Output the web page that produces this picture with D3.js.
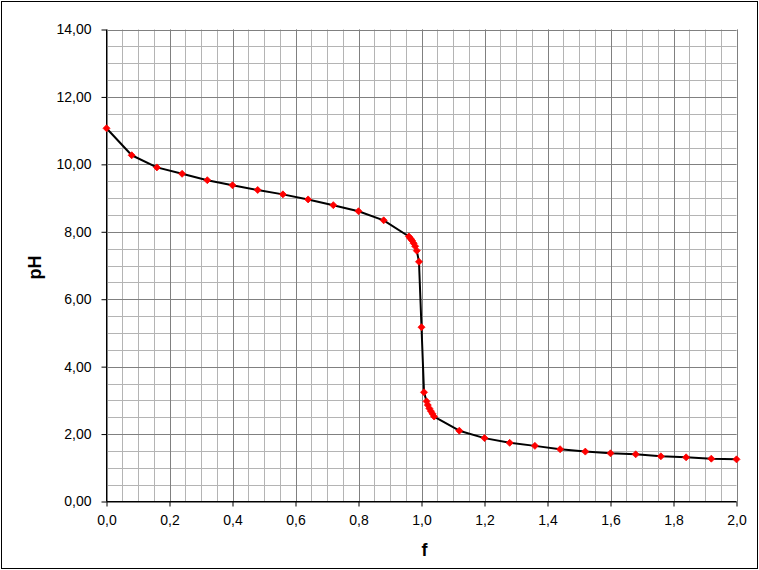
<!DOCTYPE html>
<html>
<head>
<meta charset="utf-8">
<script src="https://cdn.jsdelivr.net/npm/d3@7"></script>
<style>
  html, body { margin: 0; padding: 0; background: #fff; }
  svg { display: block; }
</style>
</head>
<body>
<svg id="chart" width="759" height="570"></svg>
<script>
// Data
const fValues = [0, 0.08, 0.16, 0.24, 0.32, 0.40, 0.48, 0.56, 0.64, 0.72, 0.80, 0.88,
  0.96, 0.965, 0.97, 0.975, 0.98, 0.985, 0.992, 1.0,
  1.008, 1.016, 1.02, 1.025, 1.03, 1.035, 1.04,
  1.12, 1.20, 1.28, 1.36, 1.44, 1.52, 1.60, 1.68, 1.76, 1.84, 1.92, 2.00];
const pHValues = [11.07, 10.27, 9.91, 9.72, 9.53, 9.38, 9.24, 9.11, 8.96, 8.79, 8.61, 8.34,
  7.86, 7.80, 7.74, 7.66, 7.57, 7.44, 7.11, 5.17,
  3.24, 2.97, 2.86, 2.76, 2.68, 2.60, 2.52,
  2.10, 1.88, 1.74, 1.65, 1.55, 1.48, 1.43, 1.40, 1.34, 1.31, 1.27, 1.25];
const xTicks = [0, 0.2, 0.4, 0.6, 0.8, 1.0, 1.2, 1.4, 1.6, 1.8, 2.0];
const yTicks = [0, 2, 4, 6, 8, 10, 12, 14];
const xTitle = "f";
const yTitle = "pH";

const svg = d3.select("#chart");
const W = 759, H = 570;
const plot = { left: 106.5, right: 736.5, top: 29.5, bottom: 501.5 };

// chart border
svg.append("rect").attr("x", 1.5).attr("y", 1.5).attr("width", W - 3).attr("height", H - 3)
  .attr("fill", "#fff").attr("stroke", "#000").attr("stroke-width", 1);

const x = d3.scaleLinear().domain([0, 2]).range([plot.left, plot.right]);
const y = d3.scaleLinear().domain([0, 14]).range([plot.bottom, plot.top]);

const grid = svg.append("g");
// minor grid
const xMinor = d3.range(0, 2.0001, 0.05);
const yMinor = d3.range(0, 14.0001, 0.5);
grid.selectAll("line.xm").data(xMinor).join("line")
  .attr("x1", d => Math.round(x(d)) + 0.5).attr("x2", d => Math.round(x(d)) + 0.5)
  .attr("y1", plot.top).attr("y2", plot.bottom)
  .attr("stroke", "#b4b4b4").attr("stroke-width", 1);
grid.selectAll("line.ym").data(yMinor).join("line")
  .attr("y1", d => Math.round(y(d)) + 0.5).attr("y2", d => Math.round(y(d)) + 0.5)
  .attr("x1", plot.left).attr("x2", plot.right)
  .attr("stroke", "#b4b4b4").attr("stroke-width", 1);
// major grid
grid.selectAll("line.xM").data(xTicks).join("line")
  .attr("x1", d => Math.round(x(d)) + 0.5).attr("x2", d => Math.round(x(d)) + 0.5)
  .attr("y1", plot.top).attr("y2", plot.bottom)
  .attr("stroke", "#808080").attr("stroke-width", 1);
grid.selectAll("line.yM").data(yTicks).join("line")
  .attr("y1", d => Math.round(y(d)) + 0.5).attr("y2", d => Math.round(y(d)) + 0.5)
  .attr("x1", plot.left).attr("x2", plot.right)
  .attr("stroke", "#808080").attr("stroke-width", 1);

const fmt = (d, n) => d.toFixed(n).replace(".", ",");

// axes
const xAxis = d3.axisBottom(x).tickValues(xTicks).tickSize(5).tickPadding(9)
  .tickFormat(d => fmt(d, 1));
const yAxis = d3.axisLeft(y).tickValues(yTicks).tickSize(5).tickPadding(10)
  .tickFormat(d => fmt(d, 2));

const gx = svg.append("g").attr("transform", `translate(0,${plot.bottom})`).call(xAxis);
const gy = svg.append("g").attr("transform", `translate(${plot.left},0)`).call(yAxis);
[gx, gy].forEach(g => {
  g.select(".domain").attr("stroke", "#000").attr("stroke-width", 1);
  g.selectAll(".tick line").attr("stroke", "#000");
  g.selectAll(".tick text").attr("fill", "#000")
    .style("font-family", "'Liberation Sans', Arial, sans-serif").style("font-size", "14px");
});
gx.select(".domain").attr("d", `M${plot.left},0H${plot.right}`);
gy.select(".domain").attr("d", `M0,${plot.bottom}V${plot.top}`);

// axis titles
svg.append("text").attr("x", (plot.left + plot.right) / 2 + 3).attr("y", 556)
  .attr("text-anchor", "middle")
  .style("font-family", "'Liberation Sans', Arial, sans-serif").style("font-size", "18px")
  .style("font-weight", "bold").text(xTitle);
svg.append("text").attr("transform", `translate(41,${(plot.top + plot.bottom) / 2 + 2}) rotate(-90)`)
  .attr("text-anchor", "middle")
  .style("font-family", "'Liberation Sans', Arial, sans-serif").style("font-size", "18px")
  .style("font-weight", "bold").text(yTitle);

// data line
const pts = fValues.map((f, i) => [f, pHValues[i]]);
svg.append("path").datum(pts)
  .attr("d", d3.line().x(d => x(d[0])).y(d => y(d[1])))
  .attr("fill", "none").attr("stroke", "#000").attr("stroke-width", 2)
  .attr("stroke-linejoin", "round");

// markers (diamonds)
svg.selectAll("path.mk").data(pts).join("path")
  .attr("transform", d => `translate(${x(d[0])},${y(d[1])})`)
  .attr("d", "M0,-3.5L3.5,0L0,3.5L-3.5,0Z")
  .attr("fill", "#ff0000").attr("stroke", "#ff0000").attr("stroke-width", 0.8);
</script>
</body>
</html>
